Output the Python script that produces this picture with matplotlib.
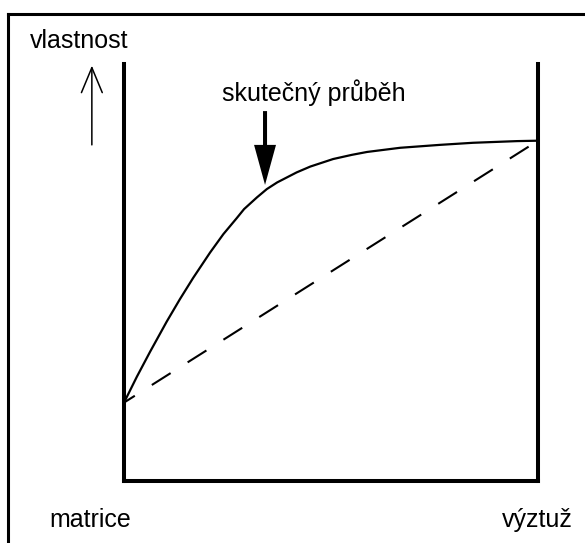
import matplotlib
matplotlib.use("Agg")
import matplotlib.pyplot as plt
from matplotlib.lines import Line2D

# slozeni: 0 = matrice, 1 = vyztuz ; vlastnost v relativnich jednotkach
curve_x = [0.0, 0.031, 0.063, 0.103, 0.135, 0.167, 0.208, 0.240, 0.272, 0.290,
           0.321, 0.345, 0.370, 0.417, 0.450, 0.505, 0.550, 0.587, 0.667, 0.763,
           0.843, 0.949, 1.0]
curve_y = [0.188, 0.250, 0.310, 0.382, 0.436, 0.487, 0.548, 0.592, 0.630, 0.652,
           0.680, 0.700, 0.716, 0.740, 0.754, 0.772, 0.782, 0.789, 0.799, 0.806,
           0.811, 0.815, 0.816]
mix_x = [0.0, 1.0]
mix_y = [0.188, 0.816]

labels = {"y": "vlastnost", "left": "matrice", "right": "výztuž",
          "real": "skutečný průběh"}

plt.rcParams['font.family'] = ['Liberation Sans', 'DejaVu Sans']
plt.rcParams['lines.scale_dashes'] = False

fig = plt.figure(figsize=(5.85, 5.43), dpi=100)
ax = fig.add_axes([0.212, 0.1142, 0.7077, 0.768])
ax.set_xlim(0, 1)
ax.set_ylim(0, 1)
ax.set_xticks([])
ax.set_yticks([])
ax.spines['top'].set_visible(False)
for s in ['left', 'right', 'bottom']:
    ax.spines[s].set_linewidth(2.9)
    ax.spines[s].set_capstyle('projecting')

ax.plot(curve_x, curve_y, color='black', lw=1.6, solid_capstyle='butt',
        solid_joinstyle='round')
ax.plot(mix_x, mix_y, color='black', lw=1.5,
        linestyle=(6.8, (16.0, 14.5)), dash_capstyle='butt')

# sipka k realnemu prubehu
ax.annotate('', xy=(0.3406, 0.710), xytext=(0.3406, 0.887),
            arrowprops=dict(arrowstyle='simple,head_length=2.88,head_width=1.58,tail_width=0.29',
                            color='black', lw=0, shrinkA=0, shrinkB=0,
                            mutation_scale=10),
            annotation_clip=False)
ax.text(0.236, 0.911, labels["real"], fontsize=18, va='baseline', ha='left')

# sipka u osy vlastnosti
ax.annotate('', xy=(-0.0777, 0.996), xytext=(-0.0777, 0.806),
            arrowprops=dict(arrowstyle='->,head_length=1.8,head_width=0.75',
                            color='black', lw=1.1, shrinkA=0, shrinkB=0,
                            mutation_scale=10),
            annotation_clip=False)
ax.text(-0.227, 1.0384, labels["y"], fontsize=18, va='baseline', ha='left',
        clip_on=False)
ax.text(-0.180, -0.1096, labels["left"], fontsize=18, va='baseline', ha='left',
        clip_on=False)
ax.text(0.912, -0.1096, labels["right"], fontsize=18, va='baseline', ha='left',
        clip_on=False)

# ramecek obrazku (horni a levy okraj)
W, H = 585.0, 543.0
fig.add_artist(Line2D([8 / W, 1.0], [1 - 14 / H, 1 - 14 / H], color='black', lw=2.2,
                      solid_capstyle='projecting', transform=fig.transFigure))
fig.add_artist(Line2D([8 / W, 8 / W], [1 - 14 / H, 0.0], color='black', lw=2.2,
                      solid_capstyle='projecting', transform=fig.transFigure))

fig.savefig('out.png', dpi=100)
